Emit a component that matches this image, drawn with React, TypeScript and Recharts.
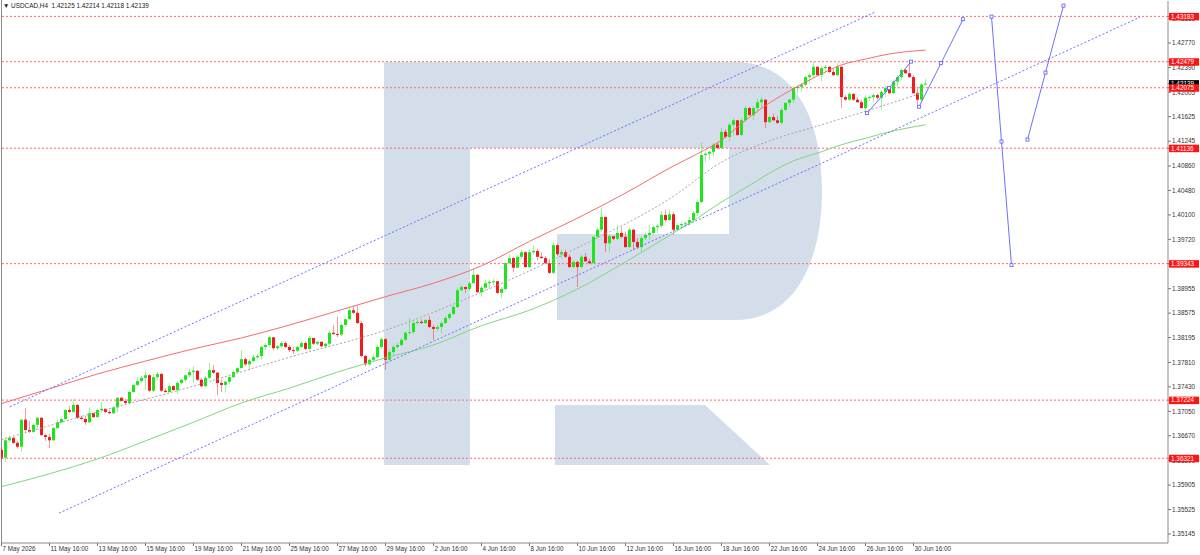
import React from 'react';
import { Bar, ComposedChart, Line, ReferenceLine, XAxis, YAxis } from 'recharts';

const FONT = '"Liberation Sans", Arial, sans-serif';
const BULL = '#1ee61e';
const BEAR = '#f21b1b';

// H4 candles, one per bar index; open of a bar = previous close
const firstOpen = 1.3645;
const closes = [
  1.3633, 1.3660, 1.3664, 1.3656, 1.3650, 1.3692, 1.3676, 1.3673, 1.3684, 1.3695,
  1.3668, 1.3665, 1.3660, 1.3679, 1.3688, 1.3693, 1.3707, 1.3704, 1.3715, 1.3695,
  1.3693, 1.3688, 1.3702, 1.3696, 1.3707, 1.3709, 1.3704, 1.3702, 1.3711, 1.3726,
  1.3721, 1.3718, 1.3735, 1.3746, 1.3752, 1.3757, 1.3761, 1.3737, 1.3758, 1.3763,
  1.3737, 1.3735, 1.3744, 1.3738, 1.3749, 1.3754, 1.3761, 1.3766, 1.3768, 1.3754,
  1.3744, 1.3757, 1.3769, 1.3765, 1.3749, 1.3746, 1.3751, 1.3758, 1.3766, 1.3772,
  1.3786, 1.3778, 1.3783, 1.3789, 1.3791, 1.3805, 1.3808, 1.3820, 1.3803, 1.3806,
  1.3811, 1.3805, 1.3800, 1.3799, 1.3805, 1.3811, 1.3802, 1.3819, 1.3810, 1.3813,
  1.3806, 1.3810, 1.3827, 1.3825, 1.3824, 1.3839, 1.3848, 1.3862, 1.3858, 1.3842,
  1.3791, 1.3778, 1.3785, 1.3789, 1.3805, 1.3817, 1.3785, 1.3797, 1.3805, 1.3808,
  1.3816, 1.3827, 1.3828, 1.3842, 1.3844, 1.3842, 1.3847, 1.3836, 1.3833, 1.3836,
  1.3842, 1.3850, 1.3856, 1.3867, 1.3893, 1.3898, 1.3895, 1.3904, 1.3917, 1.3890,
  1.3897, 1.3904, 1.3906, 1.3907, 1.3889, 1.3895, 1.3935, 1.3943, 1.3928, 1.3945,
  1.3952, 1.3929, 1.3952, 1.3954, 1.3945, 1.3943, 1.3935, 1.3920, 1.3963, 1.3949,
  1.3952, 1.3945, 1.3929, 1.3937, 1.3929, 1.3945, 1.3938, 1.3935, 1.3976, 1.3987,
  1.4007, 1.3966, 1.3977, 1.3973, 1.3982, 1.3976, 1.3960, 1.3987, 1.3968, 1.3960,
  1.3974, 1.3979, 1.3982, 1.3991, 1.3993, 1.4010, 1.4002, 1.4011, 1.3987, 1.3994,
  1.3996, 1.3997, 1.4002, 1.4013, 1.4030, 1.4103, 1.4105, 1.4108, 1.4119, 1.4114,
  1.4139, 1.4131, 1.4150, 1.4157, 1.4134, 1.4157, 1.4176, 1.4165, 1.4176, 1.4185,
  1.4189, 1.4154, 1.4162, 1.4157, 1.4153, 1.4173, 1.4184, 1.4189, 1.4207, 1.4209,
  1.4212, 1.4224, 1.4227, 1.4240, 1.4227, 1.4238, 1.4240, 1.4232, 1.4227, 1.4240,
  1.4193, 1.4189, 1.4198, 1.4189, 1.4185, 1.4176, 1.4192, 1.4193, 1.4196, 1.4192,
  1.4201, 1.4207, 1.4199, 1.4217, 1.4224, 1.4235, 1.4230, 1.4224, 1.4199, 1.4189,
  1.42125, 1.42139,
];
const highs = [
  1.3648, 1.3664, 1.3667, 1.3662, 1.3659, 1.3693, 1.3710, 1.3690, 1.3685, 1.3696,
  1.3696, 1.3670, 1.3670, 1.3681, 1.3692, 1.3695, 1.3709, 1.3713, 1.3724, 1.3716,
  1.3698, 1.3698, 1.3711, 1.3702, 1.3709, 1.3720, 1.3709, 1.3707, 1.3713, 1.3727,
  1.3727, 1.3724, 1.3737, 1.3747, 1.3758, 1.3760, 1.3768, 1.3763, 1.3763, 1.3766,
  1.3764, 1.3741, 1.3749, 1.3746, 1.3752, 1.3755, 1.3763, 1.3772, 1.3775, 1.3769,
  1.3757, 1.3760, 1.3780, 1.3777, 1.3766, 1.3754, 1.3752, 1.3760, 1.3768, 1.3774,
  1.3800, 1.3789, 1.3786, 1.3793, 1.3794, 1.3807, 1.3811, 1.3822, 1.3820, 1.3808,
  1.3814, 1.3814, 1.3808, 1.3805, 1.3807, 1.3814, 1.3814, 1.3822, 1.3819, 1.3814,
  1.3813, 1.3811, 1.3830, 1.3839, 1.3852, 1.3841, 1.3850, 1.3867, 1.3869, 1.3869,
  1.3845, 1.3793, 1.3788, 1.3793, 1.3808, 1.3820, 1.3819, 1.3800, 1.3808, 1.3811,
  1.3819, 1.3830, 1.3850, 1.3845, 1.3847, 1.3848, 1.3848, 1.3853, 1.3839, 1.3839,
  1.3845, 1.3853, 1.3859, 1.3870, 1.3897, 1.3901, 1.3899, 1.3906, 1.3925, 1.3918,
  1.3900, 1.3909, 1.3909, 1.3911, 1.3907, 1.3898, 1.3937, 1.3949, 1.3945, 1.3948,
  1.3956, 1.3954, 1.3956, 1.3962, 1.3957, 1.3952, 1.3946, 1.3942, 1.3968, 1.3965,
  1.3956, 1.3956, 1.3949, 1.3940, 1.3939, 1.3948, 1.3951, 1.3942, 1.3977, 1.3990,
  1.4022, 1.3993, 1.3980, 1.3977, 1.3994, 1.3991, 1.3984, 1.3990, 1.3988, 1.3974,
  1.3977, 1.3982, 1.3994, 1.3994, 1.3996, 1.4016, 1.4018, 1.4018, 1.4015, 1.3997,
  1.3999, 1.4001, 1.4007, 1.4016, 1.4033, 1.4122, 1.4109, 1.4111, 1.4122, 1.4123,
  1.4145, 1.4143, 1.4153, 1.4161, 1.4156, 1.4161, 1.4179, 1.4178, 1.4179, 1.4190,
  1.4193, 1.4190, 1.4164, 1.4167, 1.4164, 1.4176, 1.4185, 1.4190, 1.4210, 1.4212,
  1.4215, 1.4226, 1.4230, 1.4248, 1.4241, 1.4241, 1.4243, 1.4241, 1.4237, 1.4246,
  1.4241, 1.4196, 1.4201, 1.4199, 1.4193, 1.4189, 1.4196, 1.4195, 1.4199, 1.4198,
  1.4204, 1.4210, 1.4209, 1.4220, 1.4227, 1.4238, 1.4238, 1.4248, 1.4227, 1.4209,
  1.4215, 1.42214,
];
const lows = [
  1.3629, 1.3626, 1.3657, 1.3654, 1.3647, 1.3642, 1.3674, 1.3671, 1.3671, 1.3679,
  1.3667, 1.3659, 1.3648, 1.3659, 1.3678, 1.3687, 1.3692, 1.3702, 1.3702, 1.3693,
  1.3692, 1.3684, 1.3687, 1.3695, 1.3695, 1.3704, 1.3702, 1.3701, 1.3701, 1.3704,
  1.3720, 1.3716, 1.3716, 1.3734, 1.3744, 1.3749, 1.3738, 1.3735, 1.3735, 1.3754,
  1.3735, 1.3734, 1.3734, 1.3737, 1.3732, 1.3747, 1.3750, 1.3758, 1.3749, 1.3752,
  1.3743, 1.3743, 1.3755, 1.3763, 1.3730, 1.3735, 1.3734, 1.3747, 1.3757, 1.3765,
  1.3772, 1.3775, 1.3768, 1.3782, 1.3786, 1.3785, 1.3800, 1.3805, 1.3800, 1.3800,
  1.3803, 1.3803, 1.3797, 1.3794, 1.3797, 1.3803, 1.3800, 1.3800, 1.3808, 1.3808,
  1.3805, 1.3805, 1.3808, 1.3824, 1.3820, 1.3822, 1.3836, 1.3847, 1.3856, 1.3841,
  1.3789, 1.3775, 1.3775, 1.3782, 1.3788, 1.3802, 1.3769, 1.3782, 1.3792, 1.3802,
  1.3805, 1.3814, 1.3824, 1.3825, 1.3839, 1.3841, 1.3841, 1.3834, 1.3816, 1.3830,
  1.3827, 1.3841, 1.3847, 1.3855, 1.3865, 1.3892, 1.3889, 1.3893, 1.3903, 1.3889,
  1.3883, 1.3892, 1.3895, 1.3901, 1.3887, 1.3881, 1.3893, 1.3934, 1.3921, 1.3928,
  1.3942, 1.3928, 1.3928, 1.3949, 1.3940, 1.3942, 1.3934, 1.3918, 1.3918, 1.3946,
  1.3943, 1.3943, 1.3928, 1.3928, 1.3898, 1.3928, 1.3937, 1.3934, 1.3935, 1.3974,
  1.3984, 1.3952, 1.3952, 1.3971, 1.3971, 1.3974, 1.3959, 1.3959, 1.3956, 1.3957,
  1.3952, 1.3971, 1.3971, 1.3980, 1.3982, 1.3990, 1.3999, 1.4001, 1.3979, 1.3985,
  1.3988, 1.3991, 1.3993, 1.3999, 1.4008, 1.4029, 1.4092, 1.4095, 1.4100, 1.4112,
  1.4112, 1.4129, 1.4125, 1.4133, 1.4133, 1.4133, 1.4154, 1.4164, 1.4157, 1.4168,
  1.4176, 1.4145, 1.4153, 1.4156, 1.4151, 1.4151, 1.4171, 1.4178, 1.4184, 1.4199,
  1.4201, 1.4210, 1.4215, 1.4223, 1.4226, 1.4217, 1.4230, 1.4230, 1.4226, 1.4226,
  1.4176, 1.4187, 1.4187, 1.4187, 1.4184, 1.4175, 1.4170, 1.4187, 1.4185, 1.4189,
  1.4173, 1.4193, 1.4198, 1.4199, 1.4206, 1.4220, 1.4229, 1.4223, 1.4198, 1.4181,
  1.4187, 1.42118,
];

// time axis (bar index of each label)
const dateTicks = [0, 12, 24, 36, 48, 60, 72, 84, 96, 108, 120, 132, 144, 156, 168, 180, 192, 204, 216, 228];
const dateLabels = [
  '7 May 2026', '11 May 16:00', '13 May 16:00', '15 May 16:00', '19 May 16:00',
  '21 May 16:00', '25 May 16:00', '27 May 16:00', '29 May 16:00', '2 Jun 16:00',
  '4 Jun 16:00', '8 Jun 16:00', '10 Jun 16:00', '12 Jun 16:00', '16 Jun 16:00',
  '18 Jun 16:00', '22 Jun 16:00', '24 Jun 16:00', '26 Jun 16:00', '30 Jun 16:00',
];

const priceTicks = [
  1.4315, 1.4277, 1.4239, 1.42005, 1.41625, 1.41245, 1.4086, 1.4048, 1.401, 1.3972, 1.3934,
  1.38955, 1.38575, 1.38195, 1.3781, 1.3743, 1.3705, 1.3667, 1.3629, 1.35905, 1.35525, 1.35145,
];
const levels = [1.43183, 1.42479, 1.42075, 1.41136, 1.39343, 1.37224, 1.36321];
const lastPrice = 1.42139;

// moving averages
const maIdx = [0, 12, 24, 36, 48, 60, 72, 84, 96, 108, 120, 132, 144, 156, 168, 174, 180, 186, 192, 198, 204, 210, 216, 222, 231];
const redMa = [
  1.3717, 1.374, 1.3763, 1.3783, 1.3802, 1.3819, 1.3839, 1.3861, 1.3883, 1.3904, 1.3931, 1.3969, 1.4005,
  1.4044, 1.4086, 1.4105, 1.4126, 1.4157, 1.4184, 1.4206, 1.4226, 1.4243, 1.4252, 1.426, 1.4266,
];
const greenMa = [
  1.3588, 1.3608, 1.3631, 1.3659, 1.3688, 1.3718, 1.3741, 1.3766, 1.3788, 1.3808, 1.3838, 1.3862, 1.3895,
  1.3937, 1.3982, 1.4005, 1.403, 1.4052, 1.4075, 1.4094, 1.4106, 1.4119, 1.4129, 1.4139, 1.415,
];
const greyIdx = [0, 24, 48, 72, 96, 120, 144, 168, 180, 192, 204, 216, 231];
const greyMa = [1.3661, 1.3704, 1.3744, 1.3789, 1.3831, 1.389, 1.3959, 1.4039, 1.4092, 1.4125, 1.4148, 1.4171, 1.4201];

// channel and forecast drawings
const upperChannelIdx = [2.1, 218.4];
const upperChannelVals = [1.3712, 1.4325];
const lowerChannelIdx = [14.4, 284.6];
const lowerChannelVals = [1.3547, 1.4317];
const pastWaveIdx = [216.4, 221.9, 227.4];
const pastWaveVals = [1.4168, 1.4207, 1.4248];
const waveAIdx = [229.4, 234.9, 240.4];
const waveAVals = [1.4178, 1.4246, 1.4314];
const waveBIdx = [247.5, 250.0, 252.5];
const waveBVals = [1.4318, 1.4124, 1.3932];
const waveCIdx = [256.5, 261.0, 265.5];
const waveCVals = [1.4127, 1.4231, 1.4335];

const pts = (idx: number[], vals: number[]) => idx.map((i, k) => ({ i, v: vals[k] }));

const candles = closes.map((c, i) => {
  const o = i === 0 ? firstOpen : closes[i - 1];
  const h = Math.max(highs[i], o, c);
  const l = Math.min(lows[i], o, c);
  return { i, o, h, l, c, range: [l, h] };
});

// plain ticks first, then the price tags so they paint over them
const axisTicks = [...priceTicks, lastPrice, ...levels];

const Candle = (props: any) => {
  const { x, y, width, height, payload } = props;
  if (!payload) return null;
  const { o, h, l, c } = payload;
  const top = Math.min(y, y + height);
  const span = Math.abs(height);
  const k = h === l ? 0 : span / (h - l);
  const py = (v: number) => top + (h - v) * k;
  const cx = Math.round(x + width / 2) + 0.5;
  const color = c >= o ? BULL : BEAR;
  const bodyTop = py(Math.max(o, c));
  const bodyH = Math.max(1, py(Math.min(o, c)) - bodyTop);
  return (
    <g>
      <line x1={cx} x2={cx} y1={top} y2={top + span} stroke={color} strokeOpacity={0.45} />
      <rect x={cx - 1.5} y={bodyTop} width={3} height={bodyH} fill={color} />
    </g>
  );
};

const SquareDot = (props: any) => {
  const { cx, cy } = props;
  if (cx == null || cy == null) return null;
  return <rect x={cx - 1.5} y={cy - 1.5} width={3} height={3} fill="#fff" stroke="#5a5aff" strokeWidth={0.8} />;
};

const PriceTick = (props: any) => {
  const { x, y, payload } = props;
  const v = payload.value;
  const isLevel = levels.includes(v);
  const isLast = v === lastPrice;
  if (isLevel || isLast) {
    return (
      <g>
        <rect x={x - 3} y={y - 3.5} width={30} height={7.5} fill={isLast ? '#000' : '#ff1414'} />
        <text x={x - 1} y={y + 2.3} fontSize={6.4} fill="#fff" fontFamily={FONT}>
          {v.toFixed(5)}
        </text>
      </g>
    );
  }
  return (
    <text x={x} y={y + 2.3} fontSize={6.4} fill="#333" fontFamily={FONT}>
      {v.toFixed(5)}
    </text>
  );
};

const DateTick = (props: any) => {
  const { x, y, payload } = props;
  return (
    <text x={x + 1} y={y + 3} fontSize={6.3} fill="#333" fontFamily={FONT}>
      {dateLabels[dateTicks.indexOf(payload.value)]}
    </text>
  );
};

const BOWL = 'M384,62 H735 C795,62 822,120 822,191 C822,262 795,320 735,320 H557 V234 H729 V148 H470 V465 H384 Z';
const LEG = 'M555,405 H705 L770,465 H555 Z';

export default function App() {
  return (
    <div
      style={{
        position: 'absolute',
        left: 0,
        top: 0,
        width: 1200,
        height: 555,
        background: '#fff',
        overflow: 'hidden',
        fontFamily: FONT,
      }}
    >
      <svg width={1200} height={555} style={{ position: 'absolute', left: 0, top: 0 }}>
        <path d={BOWL} fill="#d4deea" />
        <path d={LEG} fill="#d4deea" />
        <line x1={1.5} x2={1.5} y1={0} y2={543} stroke="#8a8a8a" />
      </svg>
      <div style={{ position: 'absolute', left: 0, top: 0 }}>
        <ComposedChart width={1200} height={555} data={candles} margin={{ top: 1, right: 0, bottom: 0, left: 1 }}>
          <XAxis
            dataKey="i"
            type="number"
            domain={[-0.125, 291.625]}
            allowDataOverflow
            ticks={dateTicks}
            interval={0}
            height={12}
            tickSize={3}
            tickMargin={2}
            tick={<DateTick />}
            axisLine={{ stroke: '#8a8a8a' }}
            tickLine={{ stroke: '#777' }}
          />
          <YAxis
            orientation="right"
            type="number"
            domain={[1.35005, 1.43422]}
            allowDataOverflow
            ticks={axisTicks}
            interval={0}
            width={32}
            tickSize={3}
            tickMargin={1}
            tick={<PriceTick />}
            axisLine={{ stroke: '#8a8a8a' }}
            tickLine={{ stroke: '#777' }}
          />
          {levels.map((lv) => (
            <ReferenceLine key={lv} y={lv} stroke="#ff6b6b" strokeDasharray="2 2" />
          ))}
          <Line data={pts(maIdx, redMa)} dataKey="v" type="monotone" stroke="#f26d6d" strokeWidth={1} dot={false} activeDot={false} isAnimationActive={false} />
          <Line data={pts(maIdx, greenMa)} dataKey="v" type="monotone" stroke="#7fd67f" strokeWidth={1} dot={false} activeDot={false} isAnimationActive={false} />
          <Line data={pts(greyIdx, greyMa)} dataKey="v" type="monotone" stroke="#a3a3a3" strokeDasharray="2 2" strokeWidth={1} dot={false} activeDot={false} isAnimationActive={false} />
          <Line data={pts(upperChannelIdx, upperChannelVals)} dataKey="v" type="linear" stroke="#6e6eff" strokeDasharray="2 2" strokeWidth={1} dot={false} activeDot={false} isAnimationActive={false} />
          <Line data={pts(lowerChannelIdx, lowerChannelVals)} dataKey="v" type="linear" stroke="#6e6eff" strokeDasharray="2 2" strokeWidth={1} dot={false} activeDot={false} isAnimationActive={false} />
          <Bar dataKey="range" barSize={3} shape={<Candle />} isAnimationActive={false} />
          {[
            [pastWaveIdx, pastWaveVals],
            [waveAIdx, waveAVals],
            [waveBIdx, waveBVals],
            [waveCIdx, waveCVals],
          ].map(([idx, vals], n) => (
            <Line
              key={n}
              data={pts(idx, vals)}
              dataKey="v"
              type="linear"
              stroke="#6e6eff"
              strokeWidth={1}
              dot={<SquareDot />}
              activeDot={false}
              isAnimationActive={false}
            />
          ))}
        </ComposedChart>
      </div>
      <div
        style={{
          position: 'absolute',
          left: 3,
          top: 2,
          fontSize: 6.4,
          lineHeight: '8px',
          color: '#222',
          whiteSpace: 'pre',
          fontFamily: FONT,
        }}
      >
        {'\u25BC USDCAD,H4  1.42125 1.42214 1.42118 1.42139'}
      </div>
    </div>
  );
}
